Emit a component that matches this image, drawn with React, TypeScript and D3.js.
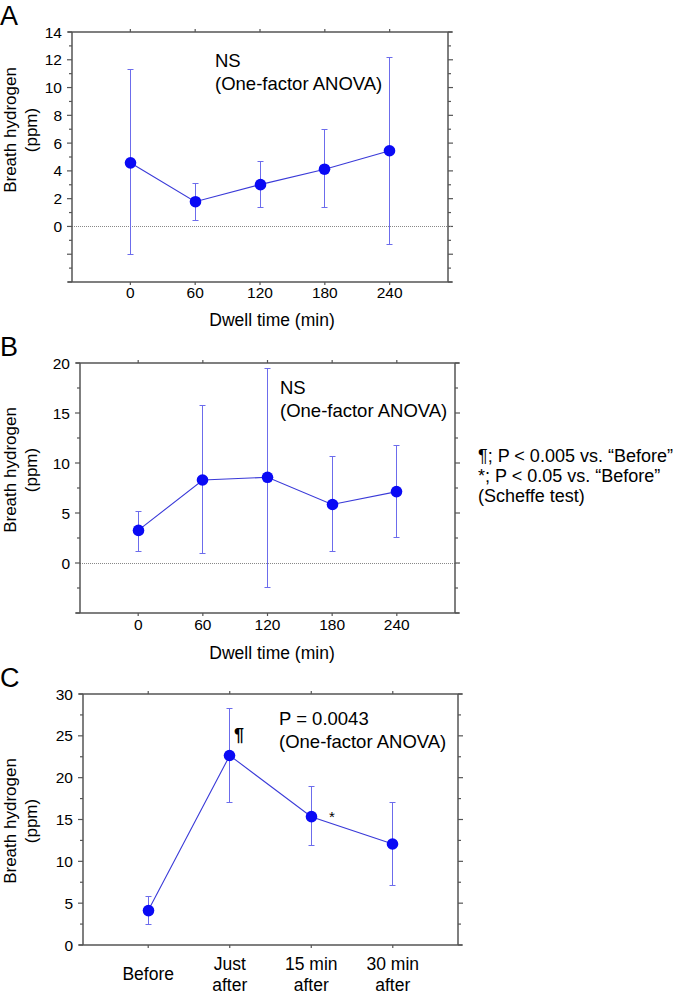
import * as d3 from 'd3'
import React from 'react'

// panel A: dwell time vs breath hydrogen
const dwellTimes = [0, 60, 120, 180, 240]
const aMean = [4.58, 1.78, 3.01, 4.12, 5.45]
const aLow = [-2.0, 0.46, 1.33, 1.33, -1.33]
const aHigh = [11.28, 3.1, 4.7, 6.96, 12.2]

// panel B
const bMean = [3.26, 8.3, 8.57, 5.85, 7.14]
const bLow = [1.16, 0.93, -2.43, 1.16, 2.6]
const bHigh = [5.18, 15.8, 19.5, 10.66, 11.8]

// panel C: before / after
const cCategories = [['Before'], ['Just', 'after'], ['15 min', 'after'], ['30 min', 'after']]
const cMean = [4.11, 22.65, 15.34, 12.07]
const cLow = [2.4, 17.0, 11.87, 7.07]
const cHigh = [5.83, 28.3, 18.9, 17.0]

const legendLines = ['¶; P < 0.005 vs. “Before”', '*; P < 0.05 vs. “Before”', '(Scheffe test)']

const FONT = 'Liberation Sans, Arial, Helvetica, sans-serif'
const AXIS = '#555'
const DOT = '#0a0af5'
const LINE = '#3a3ad8'
const BAR = '#6c6cec'

// snap to pixel centre so 1px lines look the same everywhere
const crisp = (v: number) => Math.round(v - 0.5) + 0.5

type PanelProps = {
    letter: string
    box: [number, number, number, number] // x0, x1, y0(top), y1(bottom)
    yDomain: [number, number]
    yLabelStep: number
    yMinorStep: number
    xDomain: [number, number]
    xs: number[]
    mean: number[]
    low: number[]
    high: number[]
    xLabels: (x: number, i: number, sx: d3.ScaleLinear<number, number>) => React.ReactNode
    yTitleCenter: number
    zeroLine: boolean
}

function Panel(p: PanelProps) {
    const [x0, x1, y0, y1] = p.box
    const sx = d3.scaleLinear().domain(p.xDomain).range([x0, x1])
    const sy = d3.scaleLinear().domain(p.yDomain).range([y1, y0])
    const minor = d3.range(p.yDomain[0], p.yDomain[1] + 0.001, p.yMinorStep)
    const line = d3.line<number>().x((d, i) => sx(p.xs[i])).y(d => sy(d))

    return (
        <g>
            <text x={0} y={y0 - 7} fontSize={27} fontFamily={FONT}>{p.letter}</text>
            {/* y ticks both sides */}
            {minor.map((v, i) => {
                const major = Math.abs(v / p.yLabelStep - Math.round(v / p.yLabelStep)) < 1e-6
                const len = major ? 5 : 3
                return (
                    <g key={'t' + i}>
                        <line x1={x0 - len} x2={x0} y1={sy(v)} y2={sy(v)} stroke={AXIS} strokeWidth={1.2} />
                        <line x1={x1} x2={x1 + len} y1={sy(v)} y2={sy(v)} stroke={AXIS} strokeWidth={1.2} />
                        {major && v >= 0 ? (
                            <text x={x0 - 10} y={sy(v) + 5.5} textAnchor="end" fontSize={15.5} fontFamily={FONT}>{v}</text>
                        ) : null}
                    </g>
                )
            })}
            {p.xs.map((v, i) => (
                <g key={'x' + i}>
                    <line x1={sx(v)} x2={sx(v)} y1={y0 - 3} y2={y0} stroke={AXIS} strokeWidth={1.2} />
                    <line x1={sx(v)} x2={sx(v)} y1={y1} y2={y1 + 3} stroke={AXIS} strokeWidth={1.2} />
                    {p.xLabels(v, i, sx)}
                </g>
            ))}
            {p.zeroLine ? (
                <line x1={x0} x2={x1 + 4} y1={crisp(sy(0))} y2={crisp(sy(0))} stroke="#888" strokeWidth={1} strokeDasharray="1,1" />
            ) : null}
            {/* frame */}
            <line x1={x0 - 4} x2={x1 + 4} y1={y0} y2={y0} stroke={AXIS} strokeWidth={1.5} />
            <line x1={x0 - 4} x2={x1 + 4} y1={y1} y2={y1} stroke={AXIS} strokeWidth={1.5} />
            <line x1={x0} x2={x0} y1={y0} y2={y1} stroke={AXIS} strokeWidth={1.5} />
            <line x1={x1} x2={x1} y1={y0} y2={y1} stroke={AXIS} strokeWidth={1.5} />
            {/* y title */}
            <g transform={`translate(16,${p.yTitleCenter}) rotate(-90)`}>
                <text x={0} y={0} textAnchor="middle" fontSize={17} fontFamily={FONT}>Breath hydrogen</text>
                <text x={0} y={21} textAnchor="middle" fontSize={17} fontFamily={FONT}>(ppm)</text>
            </g>
            {/* error bars */}
            {p.xs.map((v, i) => {
                const cx = crisp(sx(v))
                const lo = crisp(sy(p.low[i]))
                const hi = crisp(sy(p.high[i]))
                return (
                    <g key={'e' + i} stroke={BAR} strokeWidth={1}>
                        <line x1={cx} x2={cx} y1={lo} y2={hi} />
                        <line x1={cx - 3} x2={cx + 3} y1={lo} y2={lo} />
                        <line x1={cx - 3} x2={cx + 3} y1={hi} y2={hi} />
                    </g>
                )
            })}
            <path d={line(p.mean) || ''} fill="none" stroke={LINE} strokeWidth={1.1} />
            {p.xs.map((v, i) => (
                <circle key={'c' + i} cx={crisp(sx(v))} cy={sy(p.mean[i])} r={5.8} fill={DOT} />
            ))}
        </g>
    )
}

export default function App() {
    const dwellLabel = (y: number) => (v: number, i: number, sx: d3.ScaleLinear<number, number>) => (
        <text x={sx(v)} y={y} textAnchor="middle" fontSize={15.5} fontFamily={FONT}>{v}</text>
    )
    const cIdx = cCategories.map((d, i) => i)

    return (
        <svg width={685} height={994} style={{ position: 'absolute', left: 0, top: 0, background: '#fff' }}>
            <rect width={685} height={994} fill="#fff" />
            <Panel letter="A" box={[72, 448, 32, 282]} yDomain={[-4, 14]} yLabelStep={2} yMinorStep={1}
                xDomain={[-54, 294]} xs={dwellTimes} mean={aMean} low={aLow} high={aHigh}
                xLabels={dwellLabel(298)} yTitleCenter={130} zeroLine={true} />
            <text x={272} y={326} textAnchor="middle" fontSize={17.5} fontFamily={FONT}>Dwell time (min)</text>
            <text x={215} y={67} fontSize={18.5} fontFamily={FONT}>NS</text>
            <text x={215} y={90} fontSize={18.5} fontFamily={FONT}>(One-factor ANOVA)</text>

            <Panel letter="B" box={[80, 455, 363, 613]} yDomain={[-5, 20]} yLabelStep={5} yMinorStep={2.5}
                xDomain={[-54, 294]} xs={dwellTimes} mean={bMean} low={bLow} high={bHigh}
                xLabels={dwellLabel(630)} yTitleCenter={470} zeroLine={true} />
            <text x={272} y={659} textAnchor="middle" fontSize={17.5} fontFamily={FONT}>Dwell time (min)</text>
            <text x={280} y={394} fontSize={18.5} fontFamily={FONT}>NS</text>
            <text x={280} y={417} fontSize={18.5} fontFamily={FONT}>(One-factor ANOVA)</text>

            {legendLines.map((t, i) => (
                <text key={i} x={478} y={462 + i * 20} fontSize={18} fontFamily={FONT}>{t}</text>
            ))}

            <Panel letter="C" box={[83, 458, 694, 945]} yDomain={[0, 30]} yLabelStep={5} yMinorStep={2.5}
                xDomain={[-0.8, 3.8]} xs={cIdx} mean={cMean} low={cLow} high={cHigh}
                xLabels={(v, i, sx) => (
                    cCategories[i].length === 1 ? (
                        <text x={sx(v)} y={980} textAnchor="middle" fontSize={17.5} fontFamily={FONT}>{cCategories[i][0]}</text>
                    ) : (
                        <text x={sx(v)} y={970} textAnchor="middle" fontSize={17.5} fontFamily={FONT}>
                            <tspan x={sx(v)} dy={0}>{cCategories[i][0]}</tspan>
                            <tspan x={sx(v)} dy={21}>{cCategories[i][1]}</tspan>
                        </text>
                    )
                )}
                yTitleCenter={821} zeroLine={false} />
            <text x={279} y={725} fontSize={18.5} fontFamily={FONT}>P = 0.0043</text>
            <text x={279} y={748} fontSize={18.5} fontFamily={FONT}>(One-factor ANOVA)</text>
            <text x={239} y={741} textAnchor="middle" fontSize={18} fontWeight="bold" fontFamily={FONT}>¶</text>
            <text x={332} y={822} textAnchor="middle" fontSize={15} fontFamily={FONT}>*</text>
        </svg>
    )
}
